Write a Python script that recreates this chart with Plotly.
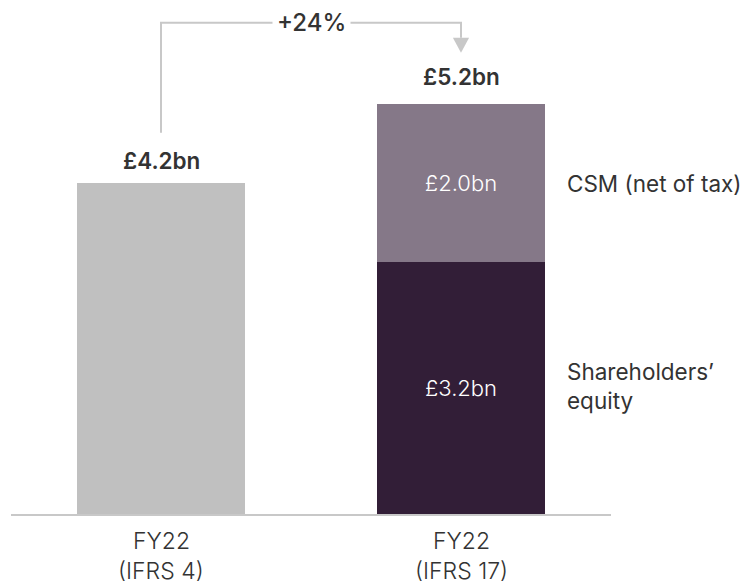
import plotly.graph_objects as go

cat_line1 = ["FY22", "FY22"]
cat_line2 = ["(IFRS 4)", "(IFRS 17)"]
ifrs4_equity = [4.2, None]
shareholders_equity = [None, 3.2]
csm_net_of_tax = [None, 2.0]
totals = [4.2, 5.2]
total_labels = ["£4.2bn", "£5.2bn"]
growth_label = "+24%"
series_names = ["Shareholders’<br>equity", "CSM (net of tax)"]

FONT = "Inter, Lato, 'Noto Sans', sans-serif"
DARK = "#333333"
GREY = "#c0c0c0"
CSM_C = "#857888"
EQ_C = "#321e37"
LINE_C = "#c8c8c8"

xpos = [0, 1]
bw = 0.557

fig = go.Figure()
fig.add_trace(go.Bar(x=xpos, y=ifrs4_equity, width=bw, marker_color=GREY,
                     marker_line_width=0, hoverinfo="skip", showlegend=False))
fig.add_trace(go.Bar(x=xpos, y=shareholders_equity, width=bw, marker_color=EQ_C,
                     marker_line_width=0, hoverinfo="skip", showlegend=False,
                     text=[None, "£%.1fbn" % shareholders_equity[1]],
                     textposition="inside", insidetextanchor="middle",
                     textfont=dict(color="white", size=22, family=FONT, weight=300)))
fig.add_trace(go.Bar(x=xpos, y=csm_net_of_tax, width=bw, marker_color=CSM_C,
                     marker_line_width=0, hoverinfo="skip", showlegend=False,
                     text=[None, "£%.1fbn" % csm_net_of_tax[1]],
                     textposition="inside", insidetextanchor="middle",
                     textfont=dict(color="white", size=22, family=FONT, weight=300)))

annotations = []
# totals
for xi, tv, tl, shift in zip(xpos, totals, total_labels, [23, 28]):
    annotations.append(dict(x=xi, y=tv, text=tl, showarrow=False, yanchor="middle",
                            yshift=shift, font=dict(size=22.5, color=DARK, family=FONT, weight=600)))

# category labels (two lines each)
for xi, l1, l2 in zip(xpos, cat_line1, cat_line2):
    annotations.append(dict(x=xi, y=0, yref="paper", text=l1, showarrow=False,
                            yanchor="middle", yshift=-27, borderpad=0,
                            font=dict(size=23, color=DARK, family=FONT, weight=300)))
    annotations.append(dict(x=xi, y=0, yref="paper", text=l2, showarrow=False,
                            yanchor="bottom", yshift=-72, borderpad=0,
                            font=dict(size=23, color=DARK, family=FONT, weight=300)))

# series labels at the right
label_x = 1.347
annotations.append(dict(x=label_x, y=shareholders_equity[1] + csm_net_of_tax[1] / 2,
                        text=series_names[1], showarrow=False, xanchor="left", yanchor="middle",
                        font=dict(size=22.5, color=DARK, family=FONT, weight=400)))
annotations.append(dict(x=label_x, y=shareholders_equity[1] / 2,
                        text=series_names[0], showarrow=False, xanchor="left", yanchor="middle",
                        align="left", yshift=2,
                        font=dict(size=22.5, color=DARK, family=FONT, weight=400)))

# growth bracket
y_left_start = totals[0] + 0.64
y_top = totals[1] + 1.035
y_arrow_end = totals[1] + 0.845
y_arrow_base = totals[1] + 0.655
hw = 0.027
shapes = [
    dict(type="path", xref="x", yref="y",
         path=f"M {xpos[0]} {y_left_start} L {xpos[0]} {y_top} L {xpos[1]} {y_top} L {xpos[1]} {y_arrow_end}",
         line=dict(color=LINE_C, width=2), layer="above"),
    dict(type="path", xref="x", yref="y",
         path=f"M {xpos[1]-hw} {y_arrow_end} L {xpos[1]+hw} {y_arrow_end} L {xpos[1]} {y_arrow_base} Z",
         fillcolor=LINE_C, line=dict(color=LINE_C, width=0), layer="above"),
]
annotations.append(dict(x=(xpos[0] + xpos[1]) / 2, y=y_top, text=growth_label, showarrow=False,
                        yanchor="middle", bgcolor="white", borderpad=4,
                        font=dict(size=24, color=DARK, family=FONT, weight=500)))

fig.update_layout(
    width=752, height=587,
    margin=dict(l=11, r=141, t=2, b=73),
    paper_bgcolor="white", plot_bgcolor="white",
    barmode="stack",
    showlegend=False,
    annotations=annotations,
    shapes=shapes,
    xaxis=dict(range=[-0.5, 1.5], tickvals=xpos, showticklabels=False,
               showline=True, linecolor=LINE_C, linewidth=2, showgrid=False,
               zeroline=False, ticks="", fixedrange=True),
    yaxis=dict(range=[0, 6.5], visible=False, showgrid=False, zeroline=False, fixedrange=True),
)

fig.write_html("out.html", config={"displayModeBar": False},
               post_script="document.body.style.margin='0';document.body.style.overflow='hidden';")
